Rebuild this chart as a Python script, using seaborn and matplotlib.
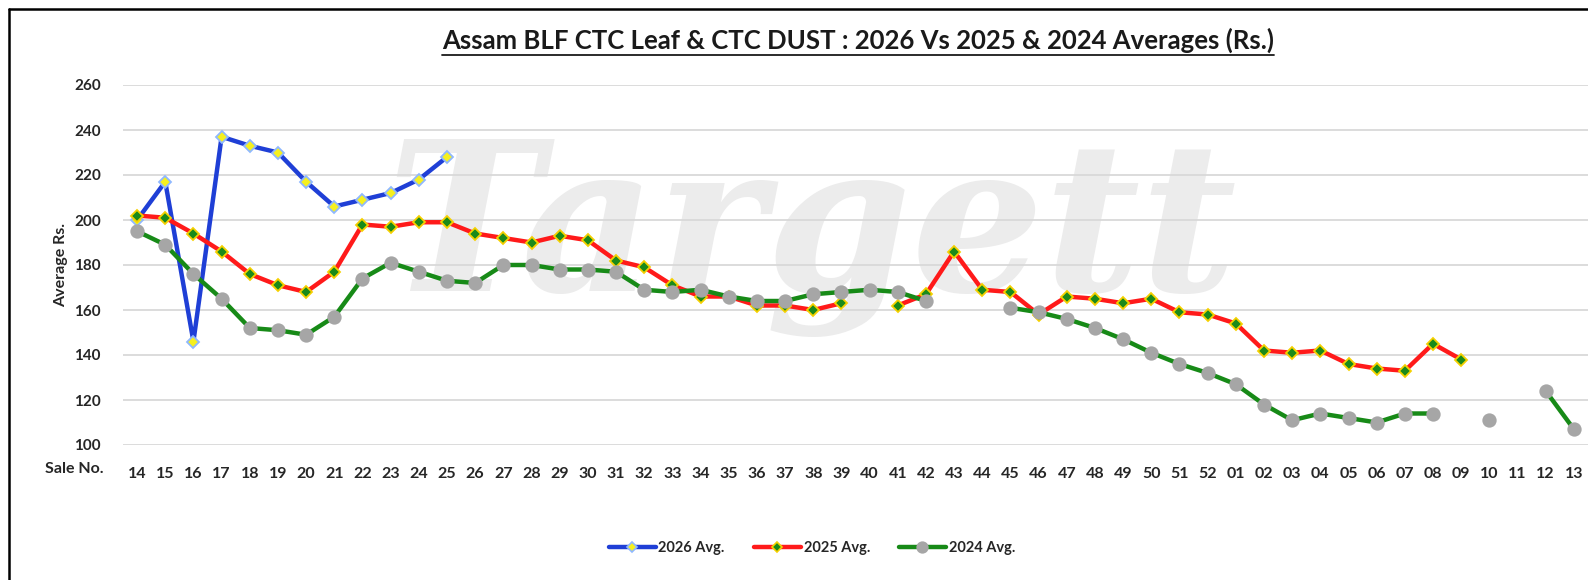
import numpy as np
import pandas as pd
import matplotlib
matplotlib.use("Agg")
import matplotlib.pyplot as plt
from matplotlib.lines import Line2D
import seaborn as sns

sale_no = [str(i) for i in range(14, 53)] + ["%02d" % i for i in range(1, 14)]

avg_2026 = [200, 217, 146, 237, 233, 230, 217, 206, 209, 212, 218, 228] + [np.nan] * 40

avg_2025 = [202, 201, 194, 186, 176, 171, 168, 177, 198, 197, 199, 199,
            194, 192, 190, 193, 191, 182, 179, 171, 166, 166, 162, 162,
            160, 163, np.nan, 162, 167, 186, 169, 168, 158, 166, 165, 163,
            165, 159, 158, 154, 142, 141, 142, 136, 134, 133, 145, 138,
            np.nan, np.nan, np.nan, np.nan]

avg_2024 = [195, 189, 176, 165, 152, 151, 149, 157, 174, 181, 177, 173,
            172, 180, 180, 178, 178, 177, 169, 168, 169, 166, 164, 164,
            167, 168, 169, 168, 164, np.nan, np.nan, 161, 159, 156, 152, 147,
            141, 136, 132, 127, 118, 111, 114, 112, 110, 114, 114, np.nan,
            111, np.nan, 124, 107]

y_ticks = [100, 120, 140, 160, 180, 200, 220, 240, 260]

title = "Assam BLF CTC Leaf & CTC DUST : 2026 Vs 2025 & 2024 Averages (Rs.)"
labels = ["2026 Avg.", "2025 Avg.", "2024 Avg."]


def to_segments(vals):
    pos, val, seg = [], [], []
    s = 0
    prev_nan = True
    for i, v in enumerate(vals):
        if v is None or (isinstance(v, float) and np.isnan(v)):
            prev_nan = True
            continue
        if prev_nan:
            s += 1
        prev_nan = False
        pos.append(i)
        val.append(v)
        seg.append(s)
    return pd.DataFrame({"pos": pos, "val": val, "seg": seg})


sns.set_style("white")
plt.rcParams["font.family"] = ["Lato", "DejaVu Sans"]

W, H = 1588, 580
fig = plt.figure(figsize=(W / 100, H / 100), dpi=100)
ax = fig.add_axes([123 / W, (H - 445) / H, (1588 - 123) / W, (445 - 85) / H])

# watermark
ax.text(0.47, 0.58, "Targett", transform=ax.transAxes, ha="center", va="center",
        fontsize=150, fontstyle="italic", fontweight="bold", family="DejaVu Serif",
        color="#ececec", zorder=0)

styles = [
    (avg_2026, "#1f3fd6", "D", "#f5f020", "#8fb8ff", 6.5),
    (avg_2025, "#ff1a1a", "D", "#1a8a1a", "#f5d000", 6.5),
    (avg_2024, "#178a17", "o", "#a6a6a6", "#a6a6a6", 9),
]
for vals, col, mk, mfc, mec, ms in styles:
    df = to_segments(vals)
    sns.lineplot(data=df, x="pos", y="val", units="seg", estimator=None, ax=ax,
                 color=col, linewidth=3.2, marker=mk, markersize=ms,
                 markerfacecolor=mfc, markeredgecolor=mec, markeredgewidth=1.3,
                 legend=False, zorder=3)

ax.set_xlim(-0.5, len(sale_no) - 0.5)
ax.set_ylim(100, 260)
ax.set_yticks(y_ticks)
ax.set_yticklabels([str(t) for t in y_ticks], fontsize=11, fontweight="bold", color="#262626")
ax.set_xticks(range(len(sale_no)))
ax.set_xticklabels(sale_no, fontsize=11.5, fontweight="bold", color="#262626")
ax.tick_params(axis="x", length=0, pad=16)
ax.tick_params(axis="y", length=0, pad=16)
ax.grid(axis="y", color="#d9d9d9", linewidth=1.3)
ax.set_axisbelow(True)
for sp in ax.spines.values():
    sp.set_visible(False)
ax.set_xlabel("")
ax.set_ylabel("Average Rs.", fontsize=11.5, fontweight="bold", color="#262626", labelpad=4)

fig.text(103 / W, 1 - 469 / H, "Sale No.", ha="right", va="center",
         fontsize=11.5, fontweight="bold", color="#262626")

t = fig.text(858 / W, 1 - 40 / H, title, ha="center", va="center",
             fontsize=18.5, fontweight="bold", color="#1a1a1a")
fig.canvas.draw()
bb = t.get_window_extent()
fig.add_artist(Line2D([bb.x0 / W, bb.x1 / W], [(bb.y0 - 2) / H, (bb.y0 - 2) / H],
                      transform=fig.transFigure, color="#1a1a1a", linewidth=1.3))

handles = [Line2D([], [], color=c, linewidth=3.2, marker=m, markersize=ms * 0.85,
                  markerfacecolor=f, markeredgecolor=e, markeredgewidth=1.2)
           for _, c, m, f, e, ms in styles]
fig.legend(handles, labels, loc="center", bbox_to_anchor=(812 / W, 1 - 548 / H),
           ncol=3, frameon=False, handlelength=3.2, columnspacing=2.0,
           handletextpad=0.2, prop={"weight": "bold", "size": 10.5})

# frame lines (top and left)
fig.add_artist(Line2D([9 / W, 1], [1 - 9 / H, 1 - 9 / H], transform=fig.transFigure,
                      color="black", linewidth=1.8))
fig.add_artist(Line2D([9 / W, 9 / W], [0, 1 - 9 / H], transform=fig.transFigure,
                      color="black", linewidth=1.8))

fig.savefig("out.png", dpi=100, facecolor="white")
